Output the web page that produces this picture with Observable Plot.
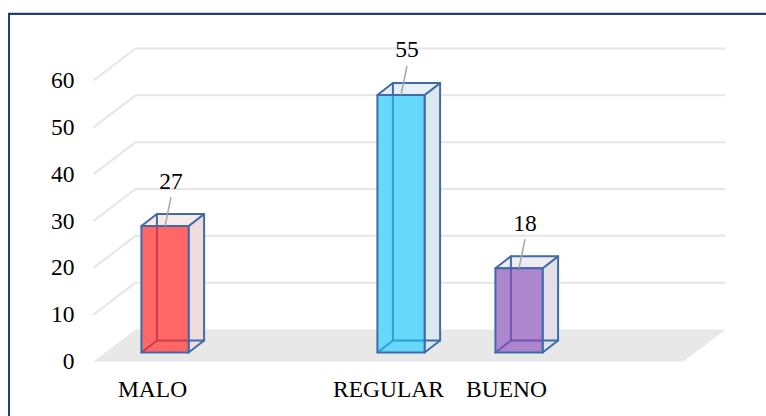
<!DOCTYPE html>
<html><head><meta charset="utf-8">
<script src="https://cdn.jsdelivr.net/npm/d3@7"></script>
<script src="https://cdn.jsdelivr.net/npm/@observablehq/plot@0.6"></script>
<style>
html,body{margin:0;padding:0;background:#fff;width:766px;height:416px;overflow:hidden;}
#chart{position:absolute;left:0;top:0;}
#frame{position:absolute;left:8px;top:13px;width:820px;height:520px;border-left:2px solid #1F3C7C;border-top:2px solid #1F3C7C;box-shadow:0 -1px 0 #C8CCD4;}
</style></head><body>
<div id="chart"></div><div id="frame"></div>
<script>
// ---- data ----
const categories = ["MALO", "REGULAR", "BUENO"];
const values = [27, 55, 18];
const categorySlots = ["MALO", "", "REGULAR", "BUENO", ""];
const yTicks = [0, 10, 20, 30, 40, 50, 60];

// ---- styles ----
const frontColors = ["#FF6666", "#66D8F9", "#AD86CD"];
const sideColors  = ["#EFDCDC", "#DCE8F0", "#E3DFE9"];
const topColors   = ["#F8EAEA", "#E7F0F6", "#EFEBF3"];
const innerColors = ["#C73E4E", "#2C9ED8", "#7553B6"];
const edgeColor = "#3F6CA8";
const font = "'Liberation Serif', 'Times New Roman', serif";
const fs = 23.5;

// ---- layout ----
const W = 766, H = 416, mL = 93, mR = 83, mT = 80, mB = 55;
const xDomain = [-0.5, categorySlots.length - 0.5];
const yDomain = [0, 60];
const pxX = (W - mL - mR) / (xDomain[1] - xDomain[0]);
const pxY = (H - mT - mB) / (yDomain[1] - yDomain[0]);
const at = (x, y, ox = 0, oy = 0) => ({x: x + ox / pxX, y: y - oy / pxY});
const FD = [42, -32];      // floor depth (px)
const BF = [12.5, -9];     // bar front offset (px)
const BD = [15.5, -12];    // bar depth (px)
const HW = 0.2;            // half bar width (slots)

const x0 = xDomain[0], x1 = xDomain[1];
const floor = [at(x0, 0), at(x1, 0), at(x1, 0, ...FD), at(x0, 0, ...FD), at(x0, 0)];
const grid = yTicks.filter(v => v > 0).flatMap(v => [
  {...at(x0, v), v}, {...at(x0, v, ...FD), v}, {...at(x1, v, ...FD), v}
]);

const marks = [
  Plot.line(floor, {x: "x", y: "y", fill: "#E8E8E8", stroke: "none"}),
  Plot.line(grid, {x: "x", y: "y", z: "v", stroke: "#E6E6E6", strokeWidth: 2, strokeLinecap: "butt"})
];

const labelRows = [], leaderRows = [];
categories.forEach((c, i) => {
  const s = categorySlots.indexOf(c), v = values[i];
  const xl = s - HW, xr = s + HW;
  const bx = BF[0], by = BF[1], kx = BF[0] + BD[0], ky = BF[1] + BD[1];
  const FBL = at(xl, 0, bx, by), FBR = at(xr, 0, bx, by), FTL = at(xl, v, bx, by), FTR = at(xr, v, bx, by);
  const BBL = at(xl, 0, kx, ky), BBR = at(xr, 0, kx, ky), BTL = at(xl, v, kx, ky), BTR = at(xr, v, kx, ky);
  const side = [FBR, FTR, BTR, BBR, FBR];
  const top = [FTL, FTR, BTR, BTL, FTL];
  const front = [FBL, FTL, FTR, FBR, FBL];
  const crossTop = at(xl, v, kx, by);
  const crossRight = at(xr, 0, bx, ky);
  const outer = [
    {...BTL, z: 0}, {...crossTop, z: 0},
    {...crossRight, z: 1}, {...BBR, z: 1}
  ];
  const inner = [
    {...crossTop, z: 0}, {...BBL, z: 0}, {...crossRight, z: 0},
    {...FBL, z: 1}, {...BBL, z: 1}
  ];
  const common = {x: "x", y: "y", strokeLinejoin: "round"};
  marks.push(
    Plot.line(side, {...common, fill: sideColors[i], stroke: edgeColor, strokeWidth: 2}),
    Plot.line(top, {...common, fill: topColors[i], stroke: edgeColor, strokeWidth: 2}),
    Plot.line(outer, {...common, z: "z", stroke: edgeColor, strokeWidth: 2}),
    Plot.line(front, {...common, fill: frontColors[i], stroke: "none"}),
    Plot.line(inner, {...common, z: "z", stroke: innerColors[i], strokeWidth: 2}),
    Plot.line(front, {...common, fill: "none", stroke: edgeColor, strokeWidth: 2})
  );
  const a = at(s, v, bx, by), b = at(s, v, bx + 6, by - 29), t = at(s, v, bx + 6, by - 45);
  leaderRows.push({x1: a.x, y1: a.y, x2: b.x, y2: b.y});
  labelRows.push({x: t.x, y: t.y, text: String(v)});
});

marks.push(
  Plot.link(leaderRows, {x1: "x1", y1: "y1", x2: "x2", y2: "y2", stroke: "#A6A6A6", strokeWidth: 1.5}),
  Plot.text(labelRows, {x: "x", y: "y", text: "text", fontSize: fs, fontFamily: font, fill: "#000"}),
  Plot.text(yTicks, {x: x0, y: d => d, dx: -19, textAnchor: "end", fontSize: fs, fontFamily: font, fill: "#000"}),
  Plot.text(categories, {x: c => categorySlots.indexOf(c), y: 0, dy: 28, fontSize: fs, fontFamily: font, fill: "#000"})
);

const chart = Plot.plot({
  width: W, height: H,
  marginLeft: mL, marginRight: mR, marginTop: mT, marginBottom: mB,
  x: {type: "linear", domain: xDomain, axis: null},
  y: {type: "linear", domain: yDomain, axis: null},
  style: {background: "transparent", fontFamily: font},
  marks
});
document.getElementById("chart").append(chart);
</script>
</body></html>
